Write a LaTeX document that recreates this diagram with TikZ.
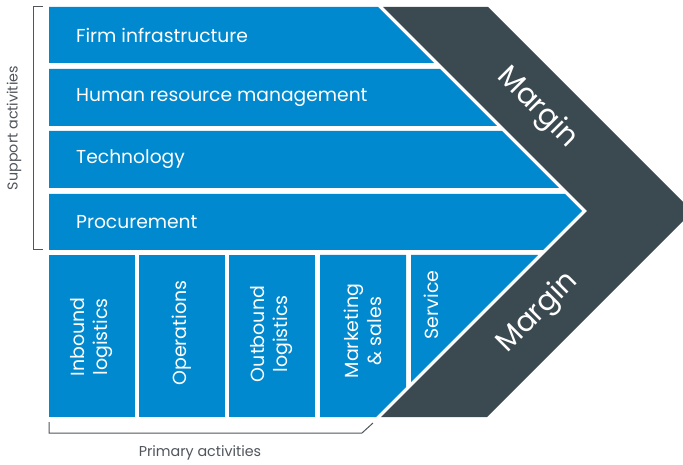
\documentclass[tikz,border=0pt]{standalone}
\usepackage{fontspec}
\setmainfont{Poppins}
\usepackage{tikz}
\usetikzlibrary{calc}
\definecolor{vcblue}{RGB}{0,137,206}
\definecolor{vcdark}{RGB}{59,73,80}
\definecolor{vcgray}{RGB}{80,86,92}
\begin{document}
\begin{tikzpicture}[x=1pt,y=-1pt,
    block/.style={fill=vcblue},
    marginbox/.style={fill=vcdark},
    bracket/.style={draw=vcgray,line width=1pt},
    rowtext/.style={anchor=west,text=white,font=\fontsize{18.7}{21}\selectfont,inner sep=0pt},
    coltext/.style={rotate=90,align=center,text=white,font=\fontsize{19}{23}\selectfont,inner sep=0pt},
    margintext/.style={text=white,font=\fontsize{29}{31}\selectfont,inner sep=0pt},
    captext/.style={text=vcgray,font=\fontsize{14.3}{16}\selectfont,inner sep=0pt}]
  \clip (0,0) rectangle (683,465);
  \fill[white] (0,0) rectangle (683,465);
  \fill[marginbox] (383,7) -- (488,7) -- (692.5,211.5) -- (487,417) -- (381,417) -- (587,211) -- cycle;
  \fill[block] (49,7) -- (378,7) -- (434,63) -- (49,63) -- cycle;
  \fill[block] (49,69) -- (440,69) -- (497,126) -- (49,126) -- cycle;
  \fill[block] (49,131) -- (502,131) -- (559,188) -- (49,188) -- cycle;
  \fill[block] (49,194) -- (565,194) -- (582,211) -- (543,250) -- (49,250) -- cycle;
  \fill[block] (49,255) rectangle (135,417);
  \fill[block] (139,255) rectangle (225,417);
  \fill[block] (229,255) rectangle (315,417);
  \fill[block] (320,255) -- (406,255) -- (406,387) -- (376,417) -- (320,417) -- cycle;
  \fill[block] (411,255) -- (538,255) -- (411,382) -- cycle;
  \node[rowtext] (firm) at (76,35) {Firm infrastructure};
  \node[rowtext] (hrm) at (76,97.5) {Human resource management};
  \node[rowtext] (tech) at (76,159.5) {Technology};
  \node[rowtext] (proc) at (76,222) {Procurement};
  \node[coltext] (inbound) at (92,337) {Inbound\\logistics};
  \node[coltext] (ops) at (182,333) {Operations};
  \node[coltext] (outbound) at (272,334) {Outbound\\logistics};
  \node[coltext] (mkt) at (363,331) {Marketing\\\& sales};
  \node[coltext] (service) at (431,305) {Service};
  \node[margintext,rotate=-45] (margintop) at (537,108) {Margin};
  \node[margintext,rotate=45] (marginbot) at (538,313) {Margin};
  \draw[bracket] (43,7) -- (33,7) -- (33,250) -- (43,250);
  \draw[bracket] (49,422) -- (49,433) -- (362,433) -- (373,423);
  \node[captext,rotate=90] (support) at (14,128) {Support activities};
  \node[captext] (primary) at (200,453) {Primary activities};
\end{tikzpicture}
\end{document}
